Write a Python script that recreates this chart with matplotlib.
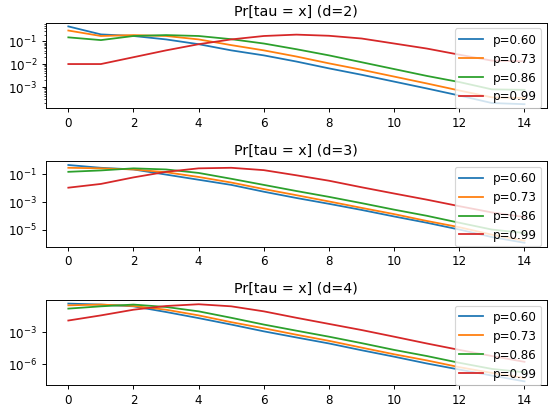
import numpy as np
import matplotlib
matplotlib.use("Agg")
import matplotlib.pyplot as plt

# x values (tau)
x = list(range(15))
labels = ["p=0.60", "p=0.73", "p=0.86", "p=0.99"]

# log10 of Pr[tau = x]
d2_log = [
    [-0.34, -0.69, -0.76, -0.91, -1.12, -1.39, -1.61, -1.88, -2.18, -2.46, -2.76, -3.06, -3.37, -3.70, -3.75],
    [-0.52, -0.76, -0.72, -0.76, -0.91, -1.16, -1.39, -1.66, -1.96, -2.24, -2.54, -2.84, -3.15, -3.45, -3.48],
    [-0.82, -0.94, -0.76, -0.72, -0.76, -0.90, -1.09, -1.34, -1.61, -1.91, -2.21, -2.51, -2.78, -3.10, -3.12],
    [-1.99, -1.99, -1.69, -1.39, -1.12, -0.91, -0.76, -0.70, -0.75, -0.87, -1.09, -1.31, -1.58, -1.84, -1.87],
]
d3_log = [
    [-0.36, -0.56, -0.68, -1.05, -1.42, -1.79, -2.28, -2.73, -3.15, -3.59, -4.06, -4.51, -5.00, -5.54, -5.95],
    [-0.56, -0.60, -0.68, -0.88, -1.22, -1.62, -2.09, -2.53, -2.98, -3.44, -3.89, -4.38, -4.83, -5.37, -5.80],
    [-0.85, -0.75, -0.60, -0.68, -0.93, -1.35, -1.79, -2.23, -2.65, -3.10, -3.57, -4.01, -4.51, -5.00, -5.25],
    [-1.99, -1.72, -1.25, -0.85, -0.60, -0.56, -0.73, -1.10, -1.49, -1.96, -2.41, -2.85, -3.32, -3.77, -4.10],
]
d4_log = [
    [-0.43, -0.52, -0.68, -1.20, -1.76, -2.35, -2.97, -3.53, -4.08, -4.70, -5.29, -5.91, -6.47, -7.02, -7.55],
    [-0.59, -0.52, -0.65, -0.99, -1.51, -2.13, -2.69, -3.28, -3.84, -4.46, -5.07, -5.63, -6.25, -6.78, -7.24],
    [-0.89, -0.68, -0.52, -0.74, -1.14, -1.73, -2.35, -2.91, -3.46, -4.05, -4.67, -5.23, -5.85, -6.41, -6.72],
    [-1.98, -1.51, -0.99, -0.65, -0.49, -0.68, -1.14, -1.73, -2.29, -2.85, -3.46, -4.08, -4.67, -5.23, -5.76],
]
d4_ticks = [1e-6, 1e-3]

datasets = [(2, d2_log), (3, d3_log), (4, d4_log)]

dpi = 85.6
fig, axes = plt.subplots(3, 1, figsize=(548.4 / dpi, 409.4 / dpi), dpi=dpi)
for ax, (d, series) in zip(axes, datasets):
    for lab, logs in zip(labels, series):
        ax.plot(x, 10 ** np.array(logs), label=lab)
    ax.set_yscale("log")
    ax.set_title("Pr[tau = x] (d=" + str(d) + ")")
    ax.legend(loc="upper right")
axes[2].set_yticks(d4_ticks)

plt.subplots_adjust(left=0.083, right=0.998, top=0.944, bottom=0.058, hspace=0.62)
plt.savefig("out.png", dpi=dpi)
